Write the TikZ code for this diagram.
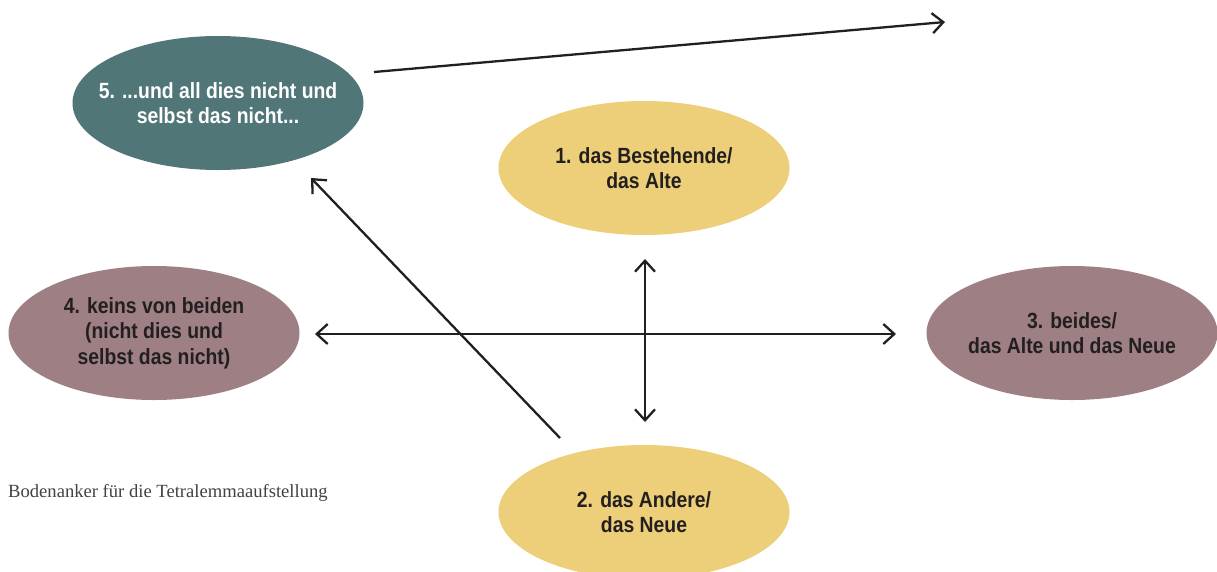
\documentclass[tikz,border=0pt]{standalone}
\usepackage{fontspec}
\setmainfont{Liberation Serif}
\newfontfamily\lblfont[FakeStretch=0.88]{Liberation Sans}
\usetikzlibrary{arrows.meta,shapes.geometric}
\definecolor{teal5}{HTML}{517678}
\definecolor{gold}{HTML}{EDCF79}
\definecolor{mauve}{HTML}{9D7F84}
\definecolor{ink}{HTML}{231F20}
\tikzset{
  oval/.style={ellipse, minimum width=291pt, minimum height=134pt, inner xsep=-22pt, inner ysep=0pt, align=center,
    font=\lblfont\fontsize{22}{25.5}\selectfont\bfseries, text=ink},
  conn/.style={line width=2.3pt, draw=ink, -{Straight Barb[length=11pt,width=20pt,line width=2.3pt]}},
  both/.style={conn, {Straight Barb[length=11pt,width=20pt,line width=2.3pt]}-{Straight Barb[length=11pt,width=20pt,line width=2.3pt]}}
}
\begin{document}
\begin{tikzpicture}[x=1pt,y=-1pt]
\useasboundingbox (0,0) rectangle (1217,571);
\begin{scope}
\clip (0,0) rectangle (1217,571);
\node[oval, fill=teal5, text=white] (n5) at (218,103) {5. ...und all dies nicht und\\selbst das nicht...};
\node[oval, fill=gold] (n1) at (644,168) {1. das Bestehende/\\das Alte};
\node[oval, fill=mauve] (n4) at (154,333) {4. keins von beiden\\(nicht dies und\\selbst das nicht)};
\node[oval, fill=mauve] (n3) at (1072,333) {3. beides/\\das Alte und das Neue};
\node[oval, fill=gold] (n2) at (644,512) {2. das Andere/\\das Neue};
\end{scope}
\coordinate (hl) at (315,334);
\coordinate (hr) at (896,334);
\coordinate (vt) at (645,259);
\coordinate (vb) at (645,422);
\coordinate (ds) at (560,438);
\coordinate (de) at (311,178);
\coordinate (ts) at (374,72);
\coordinate (te) at (945,22);
\draw[both] (hl) -- (hr);
\draw[both] (vt) -- (vb);
\draw[conn] (ds) -- (de);
\draw[conn] (ts) -- (te);
\node[anchor=base west, inner sep=0pt, font=\fontsize{18.6}{21}\selectfont, text=ink!85] (cap) at (8,497) {Bodenanker für die Tetralemmaaufstellung};
\end{tikzpicture}
\end{document}
